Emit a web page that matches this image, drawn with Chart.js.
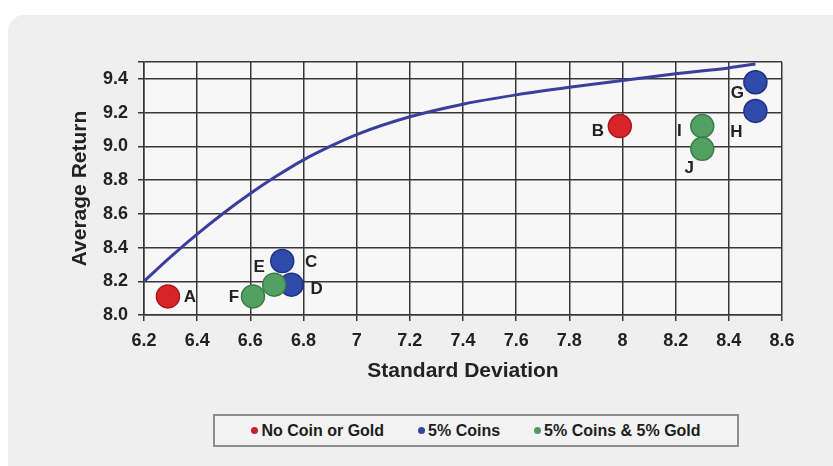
<!DOCTYPE html>
<html>
<head>
<meta charset="utf-8">
<script src="https://cdn.jsdelivr.net/npm/chart.js@4.4.1/dist/chart.umd.min.js"></script>
<style>
  html, body { margin: 0; padding: 0; background: #fff; }
  body { width: 833px; height: 466px; position: relative; overflow: hidden; font-family: "Liberation Sans", Arial, sans-serif; }
  .panel { position: absolute; left: 8px; top: 15px; width: 850px; height: 480px; background: #efefef; border-radius: 16px; }
  #chart-wrap { position: absolute; left: 0; top: 0; width: 833px; height: 466px; }
  #legend { position: absolute; left: 213px; top: 414px; width: 522px; height: 29px; border: 2px solid #8c8c8c; background: #f3f3f3; }
  #legend ul { list-style: none; margin: 0; padding: 0; height: 100%; display: flex; align-items: center; justify-content: center; gap: 34px; }
  #legend li { display: inline-flex; align-items: center; }
  #legend .dot { display: block; width: 7px; height: 7px; border-radius: 50%; margin-right: 3px; }
  #legend .txt { font-weight: bold; font-size: 16px; color: #1e1e1e; }
</style>
</head>
<body>
<div class="panel"></div>
<div id="chart-wrap"><canvas id="frontier-chart" width="833" height="466"></canvas></div>
<div id="legend"><ul></ul></div>
<script>
// Efficient frontier curve
const frontierSD = [6.2, 6.3, 6.4, 6.5, 6.6, 6.7, 6.8, 6.9, 7.0, 7.2, 7.4, 7.6, 7.8, 8.0, 8.2, 8.4, 8.5];
const frontierReturn = [8.2, 8.345, 8.48, 8.605, 8.72, 8.825, 8.92, 9.0, 9.07, 9.175, 9.25, 9.305, 9.35, 9.39, 9.43, 9.465, 9.488];

// Portfolios
const groupNames = ['No Coin or Gold', '5% Coins', '5% Coins & 5% Gold'];
const groupLetters = [['A', 'B'], ['C', 'D', 'G', 'H'], ['E', 'F', 'I', 'J']];
const groupSD = [[6.29, 7.99], [6.72, 6.755, 8.5, 8.5], [6.69, 6.61, 8.3, 8.3]];
const groupReturn = [[8.11, 9.12], [8.32, 8.18, 9.38, 9.21], [8.18, 8.11, 9.12, 8.985]];

// Axis ticks
const xTickValues = [6.2, 6.4, 6.6, 6.8, 7.0, 7.2, 7.4, 7.6, 7.8, 8.0, 8.2, 8.4, 8.6];
const yTickValues = [8.0, 8.2, 8.4, 8.6, 8.8, 9.0, 9.2, 9.4, 9.5];
const yTickLabels = ['8.0', '8.2', '8.4', '8.6', '8.8', '9.0', '9.2', '9.4', ''];

const groupFill = ['#d8232b', '#2f4aa9', '#52a062'];
const groupBorder = ['#a8161d', '#1f3185', '#3b7a49'];
const legendDot = ['#c81e36', '#2f4aa0', '#4f9a62'];

// where each letter sits relative to its bubble
const labelOffset = {
  A: [22, 1], B: [-22, 5], C: [29, 1], D: [25, 5], E: [-15, -17],
  F: [-19, 1], G: [-18, 11], H: [-19, 21], I: [-23, 5], J: [-13, 19],
};

const tickFont = { family: '"Liberation Sans", Arial, sans-serif', size: 18, weight: 'bold' };
const titleFont = { family: '"Liberation Sans", Arial, sans-serif', size: 21, weight: 'bold' };
const gridColor = '#383838';

const datasets = groupNames.map((name, g) => ({
  label: name,
  data: groupSD[g].map((x, i) => ({ x, y: groupReturn[g][i] })),
  letters: groupLetters[g],
  backgroundColor: groupFill[g],
  borderColor: groupBorder[g],
  borderWidth: 1.5,
  pointRadius: 11.5,
  pointHoverRadius: 11.5,
  order: 3 - g,
}));

datasets.push({
  label: 'Frontier',
  data: frontierSD.map((x, i) => ({ x, y: frontierReturn[i] })),
  showLine: true,
  borderColor: '#3a3f9d',
  borderWidth: 3,
  pointRadius: 0,
  cubicInterpolationMode: 'monotone',
  order: 4,
});

const plotBackground = {
  id: 'plotBackground',
  beforeDraw(c) {
    const { ctx, chartArea: a } = c;
    ctx.save();
    ctx.fillStyle = '#f7f7f7';
    ctx.fillRect(a.left, a.top, a.right - a.left, a.bottom - a.top);
    ctx.restore();
  },
};

const pointLetters = {
  id: 'pointLetters',
  afterDatasetsDraw(c) {
    const { ctx } = c;
    ctx.save();
    ctx.font = 'bold 17px "Liberation Sans", Arial, sans-serif';
    ctx.fillStyle = '#222';
    ctx.textAlign = 'center';
    ctx.textBaseline = 'middle';
    c.data.datasets.forEach((ds, di) => {
      if (!ds.letters) return;
      c.getDatasetMeta(di).data.forEach((pt, i) => {
        const letter = ds.letters[i];
        const [dx, dy] = labelOffset[letter];
        ctx.fillText(letter, pt.x + dx, pt.y + dy);
      });
    });
    ctx.restore();
  },
};

const ctx = document.getElementById('frontier-chart');
new Chart(ctx, {
  type: 'scatter',
  data: { datasets },
  options: {
    responsive: false,
    animation: false,
    layout: {
      padding: { left: 66, right: 51, top: 62, bottom: 71 },
    },
    scales: {
      x: {
        type: 'linear',
        min: 6.2,
        max: 8.6,
        afterBuildTicks: (s) => { s.ticks = xTickValues.map((value) => ({ value })); },
        afterFit: (s) => { s.height = 80; },
        grid: { color: gridColor, lineWidth: 1.5, tickLength: 6 },
        border: { color: gridColor, width: 1.5 },
        ticks: {
          color: '#222',
          font: tickFont,
          padding: 9,
          maxRotation: 0,
          autoSkip: false,
          callback: (v) => String(Math.round(v * 10) / 10),
        },
        title: {
          display: true,
          text: 'Standard Deviation',
          color: '#222',
          font: titleFont,
          padding: { top: 0, bottom: 11 },
        },
      },
      y: {
        min: 8.0,
        max: 9.5,
        afterBuildTicks: (s) => { s.ticks = yTickValues.map((value) => ({ value })); },
        afterFit: (s) => { s.width = 78; },
        grid: { color: gridColor, lineWidth: 1.5, tickLength: 6 },
        border: { color: gridColor, width: 1.5 },
        ticks: {
          color: '#222',
          font: tickFont,
          padding: 10,
          autoSkip: false,
          callback: (v, i) => yTickLabels[i],
        },
        title: {
          display: true,
          text: 'Average Return',
          color: '#222',
          font: titleFont,
          padding: { top: 2, bottom: 0 },
        },
      },
    },
    plugins: {
      legend: { display: false },
      tooltip: { enabled: false },
    },
  },
  plugins: [plotBackground, pointLetters],
});

// HTML legend built from the portfolio groups
const ul = document.querySelector('#legend ul');
groupNames.forEach((name, g) => {
  const li = document.createElement('li');
  const dot = document.createElement('span');
  dot.className = 'dot';
  dot.style.background = legendDot[g];
  const txt = document.createElement('span');
  txt.className = 'txt';
  txt.textContent = name;
  li.appendChild(dot);
  li.appendChild(txt);
  ul.appendChild(li);
});
</script>
</body>
</html>
